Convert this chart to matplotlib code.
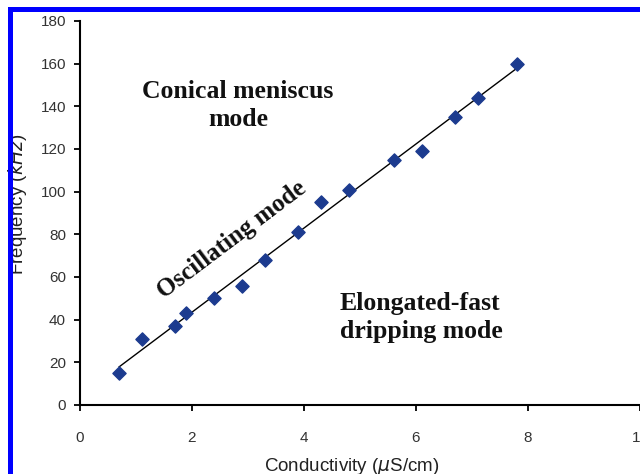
import numpy as np
import matplotlib
matplotlib.use("Agg")
import matplotlib.pyplot as plt
from matplotlib.patches import Rectangle

# conductivity (uS/cm) vs. jet frequency (kHz)
conductivity = [0.7, 1.1, 1.7, 1.9, 2.4, 2.9, 3.3, 3.9, 4.3, 4.8, 5.6, 6.1, 6.7, 7.1, 7.8]
frequency = [15, 31, 37, 43, 50, 56, 68, 81, 95, 101, 115, 119, 135, 144, 160]

xticks = [0, 2, 4, 6, 8, 10]
yticks = [0, 20, 40, 60, 80, 100, 120, 140, 160, 180]

W, H = 640, 474
fig = plt.figure(figsize=(6.4, 4.74), dpi=100)
fig.patch.set_facecolor("white")
ax = fig.add_axes([80 / W, 69 / H, 560 / W, 384 / H])

ax.scatter(conductivity, frequency, marker="D", s=45, color="#1c3b8f",
           edgecolors="#1c3b8f", zorder=3, clip_on=False)

# linear trend line over the measured range
k, b = np.polyfit(conductivity, frequency, 1)
xs = np.array([min(conductivity), max(conductivity)])
ax.plot(xs, k * xs + b, color="black", lw=1.0, zorder=2)

ax.set_xlim(0, 10)
ax.set_ylim(0, 180)
ax.set_xticks(xticks)
ax.set_yticks(yticks)
for s in ["top", "right"]:
    ax.spines[s].set_visible(False)
for s in ["left", "bottom"]:
    ax.spines[s].set_linewidth(1.5)
ax.tick_params(axis="both", direction="out", length=4, width=1.3,
               labelsize=11, labelcolor="#333333")
ax.tick_params(axis="x", pad=15)
ax.tick_params(axis="y", pad=6)
for lab in ax.get_xticklabels() + ax.get_yticklabels():
    lab.set_family("Liberation Sans")

ax.set_xlabel("Conductivity ($\\mu$S/cm)", family="Liberation Sans",
              fontsize=13.5, color="#222222", va="center")
ax.xaxis.set_label_coords(0.486, -0.16)
ax.set_ylabel("Frequency ($\\it{kHz}$)", family="Liberation Sans",
              fontsize=13.5, color="#222222")
ax.yaxis.label.set_rotation_mode("default")
ax.yaxis.label.set_va("center")
ax.yaxis.label.set_ha("center")
ax.yaxis.set_label_coords(-0.111, 0.523)

serif = dict(family="Liberation Serif", fontweight="bold", color="#111111")
ax.text(2.82, 140.5, "Conical meniscus\nmode", ha="center", va="center",
        fontsize=18.5, linespacing=1.3, **serif)
ax.text(2.71, 77.5, "Oscillating mode", ha="center", va="center",
        rotation=37, fontsize=18, **serif)
ax.text(4.64, 41, "Elongated-fast\ndripping mode", ha="left", va="center",
        fontsize=18.5, linespacing=1.3, **serif)

# blue frame
fig.patches.append(Rectangle((9.5 / W, -0.1), 1.2, 1.1 - 9.5 / H,
                             transform=fig.transFigure, fill=False,
                             edgecolor="#0000ff", lw=3.6, zorder=10))

fig.savefig("out.png", dpi=100)
